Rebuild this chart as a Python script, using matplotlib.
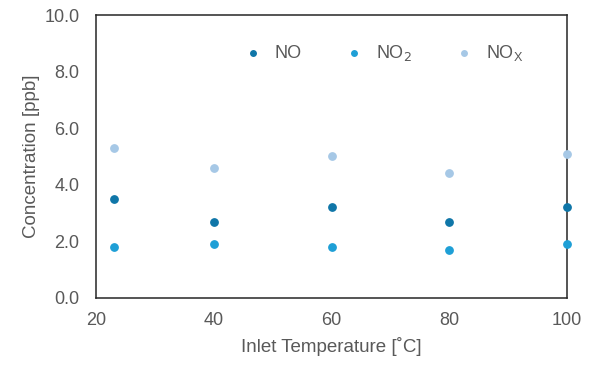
import matplotlib.pyplot as plt

plt.rcParams['font.family'] = ['Liberation Sans', 'DejaVu Sans']

# Data
temps = [23, 40, 60, 80, 100]
no = [3.5, 2.7, 3.2, 2.7, 3.2]
no2 = [1.8, 1.9, 1.8, 1.7, 1.9]
nox = [5.3, 4.6, 5.0, 4.4, 5.1]

gray = '#595959'

fig = plt.figure(figsize=(6.05, 3.78), dpi=100)
ax = fig.add_axes([0.159, 0.212, 0.778, 0.748])

ax.scatter(temps, no, s=28, color='#0F76A8', label='NO', zorder=3)
ax.scatter(temps, no2, s=28, color='#1E9FD6', label='NO$_2$', zorder=3)
ax.scatter(temps, nox, s=28, color='#A6C8E6', label='NO$_\\mathregular{X}$', zorder=3)

ax.set_xlim(20, 100)
ax.set_ylim(0, 10)
ax.set_xticks([20, 40, 60, 80, 100])
ax.set_yticks([0, 2, 4, 6, 8, 10])
ax.set_yticklabels(['%.1f' % v for v in [0, 2, 4, 6, 8, 10]])
ax.tick_params(length=0, labelsize=13, colors=gray)
ax.tick_params(axis='y', pad=12)
ax.tick_params(axis='x', pad=10)
for s in ax.spines.values():
    s.set_color('#262626')
    s.set_linewidth(1.1)

ax.set_xlabel('Inlet Temperature [˚C]', fontsize=13.5, color=gray, labelpad=6)
ax.set_ylabel('Concentration [ppb]', fontsize=13.5, color=gray, labelpad=3)

leg = ax.legend(loc='upper left', bbox_to_anchor=(0.26, 0.96), ncol=3, frameon=False,
                fontsize=13, handletextpad=0.2, columnspacing=1.9, markerscale=0.75)
for t in leg.get_texts():
    t.set_color(gray)

for sc in ax.collections:
    sc.set_clip_on(False)

fig.savefig('out.png', dpi=100)
